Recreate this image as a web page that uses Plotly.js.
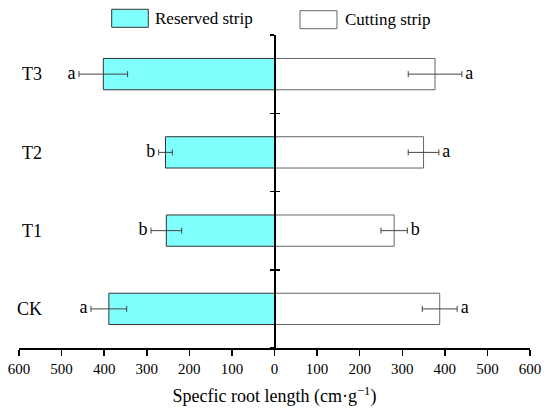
<!DOCTYPE html>
<html>
<head>
<meta charset="utf-8">
<script src="https://cdn.plot.ly/plotly-3.0.1.min.js"></script>
<style>html,body{margin:0;padding:0;background:#fff;}#chart{width:550px;height:414px;}</style>
</head>
<body>
<div id="chart"></div>
<script>
// ---- data ----
const categories = ['CK', 'T1', 'T2', 'T3'];
const reservedValues = [389, 254, 256, 402];
const reservedErrors = [42, 36, 16, 57];
const reservedLetters = ['a', 'b', 'b', 'a'];
const cuttingValues = [388, 281, 350, 377];
const cuttingErrors = [41, 31, 36, 63];
const cuttingLetters = ['a', 'b', 'a', 'a'];
const tickValues = [-600, -500, -400, -300, -200, -100, 0, 100, 200, 300, 400, 500, 600];
const tickLabels = ['600', '500', '400', '300', '200', '100', '0', '100', '200', '300', '400', '500', '600'];
const seriesNames = ['Reserved strip', 'Cutting strip'];
const boundaryTicks = [-0.5, 0.5, 1.5, 2.5, 3.5];

// ---- styles ----
const FONT = 'Liberation Serif';
const CYAN = '#80FFFF';
const RES_BORDER = '#333333';
const CUT_BORDER = '#666666';
const ERR_COLOR = '#444444';

const traces = [
  {
    type: 'bar', orientation: 'h', name: seriesNames[0], showlegend: false,
    y: categories, x: reservedValues.map(v => -v),
    marker: {color: CYAN, line: {color: RES_BORDER, width: 1}},
    error_x: {type: 'data', array: reservedErrors, visible: true, color: ERR_COLOR, thickness: 1, width: 3},
    hoverinfo: 'skip'
  },
  {
    type: 'bar', orientation: 'h', name: seriesNames[1], showlegend: false,
    y: categories, x: cuttingValues,
    marker: {color: '#ffffff', line: {color: CUT_BORDER, width: 1}},
    error_x: {type: 'data', array: cuttingErrors, visible: true, color: ERR_COLOR, thickness: 1, width: 3},
    hoverinfo: 'skip'
  },
  {
    type: 'scatter', mode: 'markers+text', showlegend: false,
    y: categories, x: reservedValues.map((v, i) => -(v + reservedErrors[i])),
    marker: {size: 4, opacity: 0},
    text: reservedLetters, textposition: 'middle left',
    textfont: {family: FONT, size: 18, color: '#000'}, hoverinfo: 'skip', cliponaxis: false
  },
  {
    type: 'scatter', mode: 'markers+text', showlegend: false,
    y: categories, x: cuttingValues.map((v, i) => v + cuttingErrors[i]),
    marker: {size: 4, opacity: 0},
    text: cuttingLetters, textposition: 'middle right',
    textfont: {family: FONT, size: 18, color: '#000'}, hoverinfo: 'skip', cliponaxis: false
  },
  // helper (empty) traces so the centre axes are drawn
  {type: 'scatter', x: [0], y: [0], mode: 'markers', marker: {opacity: 0}, yaxis: 'y2', showlegend: false, hoverinfo: 'skip'},
  {type: 'scatter', x: [0], y: [0], mode: 'markers', marker: {opacity: 0}, yaxis: 'y3', showlegend: false, hoverinfo: 'skip'}
];

const legendBox = (x0, x1, y0, y1, fill, line) => ({
  type: 'rect', xref: 'paper', yref: 'paper', x0, x1, y0, y1,
  fillcolor: fill, line: {color: line, width: 1}
});

const layout = {
  width: 550, height: 414,
  margin: {l: 19, r: 20, t: 35, b: 66},
  paper_bgcolor: '#fff', plot_bgcolor: '#fff',
  font: {family: FONT, color: '#000'},
  barmode: 'relative', bargap: 0.6,
  showlegend: false,
  xaxis: {
    range: [-600, 600], tickvals: tickValues, ticktext: tickLabels,
    showline: true, linecolor: '#000', linewidth: 1.5,
    ticks: 'outside', ticklen: 6, tickwidth: 1.5, tickcolor: '#000',
    showgrid: false, zeroline: false,
    tickfont: {family: FONT, size: 15, color: '#000'},
    title: {text: 'Specfic root length (cm·g<sup>−1</sup>)', font: {family: FONT, size: 18, color: '#000'}, standoff: 14}
  },
  yaxis: {
    type: 'category', categoryorder: 'array', categoryarray: categories,
    range: [-0.5, 3.5], anchor: 'free', position: 0.045,
    showline: false, ticks: '', showgrid: false, zeroline: false,
    tickfont: {family: FONT, size: 18, color: '#000'}
  },
  yaxis2: {
    overlaying: 'y', anchor: 'free', position: 0.5, range: [-0.5, 3.5],
    tickvals: boundaryTicks, showticklabels: false,
    showline: true, linecolor: '#000', linewidth: 2,
    ticks: 'outside', ticklen: 4, tickwidth: 1.5, tickcolor: '#000',
    showgrid: false, zeroline: false, layer: 'above traces'
  },
  yaxis3: {
    overlaying: 'y', anchor: 'free', position: 0.5, range: [-0.5, 3.5],
    tickvals: boundaryTicks, showticklabels: false,
    showline: false,
    ticks: 'inside', ticklen: 4, tickwidth: 1.5, tickcolor: '#000',
    showgrid: false, zeroline: false, layer: 'above traces'
  },
  shapes: [
    legendBox(0.1814, 0.2530, 1.0246, 1.0822, CYAN, RES_BORDER),
    legendBox(0.5499, 0.6223, 1.0201, 1.0777, '#ffffff', CUT_BORDER)
  ],
  annotations: [
    {xref: 'paper', yref: 'paper', x: 0.2622, y: 1.052, xanchor: 'left', yanchor: 'middle', showarrow: false,
     text: seriesNames[0], font: {family: FONT, size: 17, color: '#000'}},
    {xref: 'paper', yref: 'paper', x: 0.634, y: 1.048, xanchor: 'left', yanchor: 'middle', showarrow: false,
     text: seriesNames[1], font: {family: FONT, size: 17, color: '#000'}}
  ]
};

Plotly.newPlot('chart', traces, layout, {displayModeBar: false, staticPlot: true});
</script>
</body>
</html>
